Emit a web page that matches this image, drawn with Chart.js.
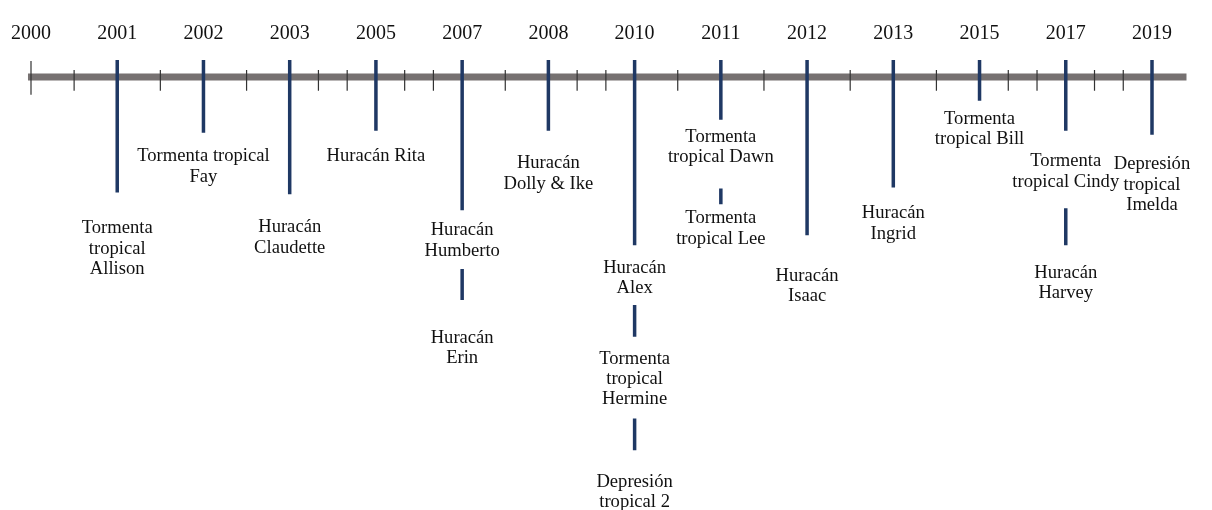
<!DOCTYPE html>
<html>
<head>
<meta charset="utf-8">
<script src="https://cdn.jsdelivr.net/npm/chart.js@4"></script>
<style>
  html, body { margin: 0; padding: 0; background: #fff; }
  #wrap { width: 1212px; height: 510px; }
</style>
</head>
<body>
<div id="wrap"><canvas id="timeline"></canvas></div>
<script>
const years = ['2000', '2001', '2002', '2003', '2005', '2007', '2008', '2010', '2011', '2012', '2013', '2015', '2017', '2019'];

// one entry per storm, top to bottom under its year
const stormYears = ['2001', '2002', '2003', '2005', '2007', '2007', '2008', '2010', '2010', '2010',
  '2011', '2011', '2012', '2013', '2015', '2017', '2017', '2019'];
const stormLabels = [
  ['Tormenta', 'tropical', 'Allison'],
  ['Tormenta tropical', 'Fay'],
  ['Huracán', 'Claudette'],
  ['Huracán Rita'],
  ['Huracán', 'Humberto'],
  ['Huracán', 'Erin'],
  ['Huracán', 'Dolly & Ike'],
  ['Huracán', 'Alex'],
  ['Tormenta', 'tropical', 'Hermine'],
  ['Depresión', 'tropical 2'],
  ['Tormenta', 'tropical Dawn'],
  ['Tormenta', 'tropical Lee'],
  ['Huracán', 'Isaac'],
  ['Huracán', 'Ingrid'],
  ['Tormenta', 'tropical Bill'],
  ['Tormenta', 'tropical Cindy'],
  ['Huracán', 'Harvey'],
  ['Depresión', 'tropical', 'Imelda']
];

// small marks on the axis between two marked years
const ticksBetween = [1, 1, 1, 2, 2, 1, 2, 1, 1, 1, 1, 2, 2];

// layout: depth under the axis for each stem and its label
const stemFrom = [-17, -17, -17, -17, -17, 193, -17, -17, 229, 343, -17, 112, -17, -17, -17, -17, 132, -17];
const stemTo = [116, 56, 118, 54, 134, 224, 54, 169, 261, 375, 43, 128, 159, 111, 24, 54, 169, 58];
const labelAt = [152, 80, 151, 80, 154, 262, 87, 192, 283, 407, 60, 142, 200, 137, 42, 85, 197, 88];
const lineGap = 20.5;

const navy = '#1f3864';
const grey = '#767171';

const stemData = [];
stormYears.forEach((yr, i) => {
  const x = years.indexOf(yr);
  stemData.push({x: x, y: stemFrom[i]}, {x: x, y: stemTo[i]}, {x: x, y: null});
});

const tickData = [{x: 0, y: -16}, {x: 0, y: 18}, {x: 0, y: null}];
ticksBetween.forEach((n, i) => {
  for (let k = 1; k <= n; k++) {
    const x = i + k / (n + 1);
    tickData.push({x: x, y: -7}, {x: x, y: 14}, {x: x, y: null});
  }
});

const stormText = {
  id: 'stormText',
  afterDatasetsDraw(chart) {
    const {ctx, scales: {x, y}} = chart;
    ctx.save();
    ctx.font = '18.6px "Liberation Serif"';
    ctx.fillStyle = '#111';
    ctx.textAlign = 'center';
    ctx.textBaseline = 'middle';
    stormLabels.forEach((lines, i) => {
      const px = x.getPixelForValue(years.indexOf(stormYears[i]));
      lines.forEach((line, j) => {
        ctx.fillText(line, px, y.getPixelForValue(labelAt[i] + j * lineGap));
      });
    });
    ctx.restore();
  }
};

new Chart(document.getElementById('timeline'), {
  type: 'scatter',
  data: {
    datasets: [
      {
        data: stemData,
        showLine: true,
        borderColor: navy,
        borderWidth: 3.5,
        pointRadius: 0,
        spanGaps: false,
        clip: false
      },
      {
        data: tickData,
        showLine: true,
        borderColor: '#333',
        borderWidth: 1.2,
        pointRadius: 0,
        spanGaps: false,
        clip: false
      },
      {
        data: [{x: -0.035, y: 0}, {x: 13.4, y: 0}],
        showLine: true,
        borderColor: grey,
        borderWidth: 7,
        pointRadius: 0,
        clip: false
      }
    ]
  },
  options: {
    responsive: true,
    maintainAspectRatio: false,
    animation: false,
    layout: {padding: {left: 31, right: 60, top: 19, bottom: 0}},
    plugins: {legend: {display: false}, tooltip: {enabled: false}},
    scales: {
      x: {
        type: 'linear',
        position: 'top',
        min: 0,
        max: 13,
        grid: {display: false, drawTicks: false},
        border: {display: false},
        ticks: {
          stepSize: 1,
          autoSkip: false,
          maxRotation: 0,
          padding: 3,
          color: '#111',
          font: {family: 'Liberation Serif', size: 20},
          callback: v => years[v]
        }
      },
      y: {
        type: 'linear',
        display: false,
        reverse: true,
        min: -28,
        max: 435
      }
    }
  },
  plugins: [stormText]
});
</script>
</body>
</html>
